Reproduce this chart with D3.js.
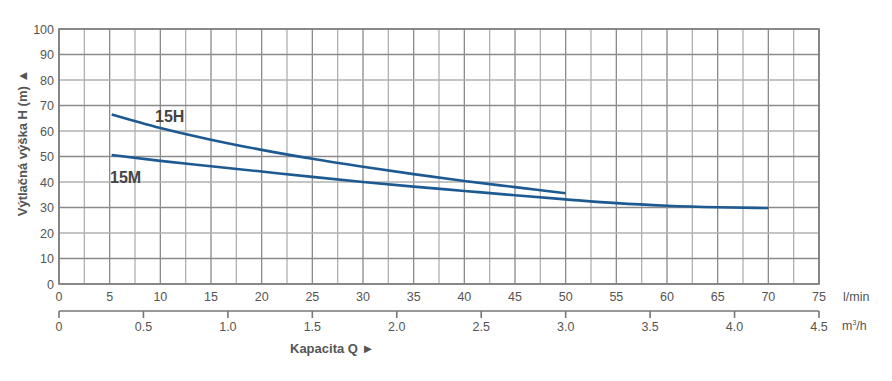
<!DOCTYPE html>
<html><head><meta charset="utf-8">
<script src="https://cdn.jsdelivr.net/npm/d3@7"></script>
<style>body{margin:0;background:#fff}svg{display:block}text{font-family:"Liberation Sans",Arial,sans-serif}</style>
</head><body><svg id="c" width="892" height="381"></svg>
<script>
const qLmin = [0,5,10,15,20,25,30,35,40,45,50,55,60,65,70,75];
const qM3h = [0,0.5,1.0,1.5,2.0,2.5,3.0,3.5,4.0,4.5];
const hTicks = [0,10,20,30,40,50,60,70,80,90,100];
const q15H = [5.2,10,15,20,25,30,35,40,45,50];
const h15H = [66.5,61.2,56.6,52.6,49.1,46.0,43.1,40.4,38.0,35.6];
const q15M = [5.2,10,15,20,25,30,35,40,45,50,55,60,65,70];
const h15M = [50.6,48.3,46.2,44.1,42.0,40.0,38.2,36.5,34.8,33.2,31.7,30.7,30.1,29.8];

const svg = d3.select("#c");
const L=59,R=819,T=29,B=284;
const x = d3.scaleLinear().domain([0,75]).range([L,R]);
const x2 = d3.scaleLinear().domain([0,4.5]).range([L,R]);
const y = d3.scaleLinear().domain([0,100]).range([B,T]);

// grid
const g = svg.append("g");
d3.range(0,75.01,2.5).forEach((v,i)=>{
  g.append("line").attr("x1",x(v)).attr("x2",x(v)).attr("y1",T).attr("y2",B)
   .attr("stroke", i%2? "#b0b0b0":"#8a8a8a").attr("stroke-width",1.3);
});
hTicks.forEach((v,i)=>{
  g.append("line").attr("x1",L).attr("x2",R).attr("y1",y(v)).attr("y2",y(v))
   .attr("stroke", i%2? "#8a8a8a":"#b0b0b0").attr("stroke-width",1.3);
});
g.append("rect").attr("x",L).attr("y",T).attr("width",R-L).attr("height",B-T)
 .attr("fill","none").attr("stroke","#7a7a7a").attr("stroke-width",1.6);

// y ticks
svg.append("g").selectAll("text").data(hTicks).join("text")
 .attr("x",L-5).attr("y",d=>y(d)+4.5).attr("text-anchor","end")
 .attr("font-size",12.5).attr("fill","#555").text(d=>d);

// x ticks l/min
svg.append("g").selectAll("text").data(qLmin).join("text")
 .attr("x",d=>x(d)).attr("y",301).attr("text-anchor","middle")
 .attr("font-size",12.5).attr("fill","#555").text(d=>d);
svg.append("text").attr("x",843).attr("y",301).attr("font-size",12.5).attr("fill","#555").text("l/min");

// second axis
const ax2 = svg.append("g");
ax2.append("line").attr("x1",L).attr("x2",x2(4.5)).attr("y1",311).attr("y2",311).attr("stroke","#777").attr("stroke-width",1.6);
ax2.selectAll("line.t").data(qM3h).join("line").attr("class","t")
 .attr("x1",d=>x2(d)).attr("x2",d=>x2(d)).attr("y1",311).attr("y2",318).attr("stroke","#777").attr("stroke-width",1.6);
ax2.selectAll("text").data(qM3h).join("text")
 .attr("x",d=>x2(d)).attr("y",331).attr("text-anchor","middle")
 .attr("font-size",12.5).attr("fill","#555").text(d=>d===0?"0":d.toFixed(1));
const mt = svg.append("text").attr("x",842).attr("y",330).attr("font-size",12.5).attr("fill","#555");
mt.append("tspan").text("m");
mt.append("tspan").attr("font-size",7).attr("dy",-5).text("3");
mt.append("tspan").attr("dy",5).text("/h");

svg.append("text").attr("x",290).attr("y",353).attr("font-size",13).attr("font-weight","bold").attr("fill","#555")
 .text("Kapacita Q  \u25BA");
svg.append("text").attr("transform","translate(27,143) rotate(-90)").attr("text-anchor","middle")
 .attr("font-size",13).attr("font-weight","bold").attr("fill","#555").text("Výtlačná výška H (m)  \u25B2");

// curves
const line = d3.line().x(d=>x(d[0])).y(d=>y(d[1])).curve(d3.curveMonotoneX);
svg.append("path").datum(q15H.map((q,i)=>[q,h15H[i]])).attr("d",line)
 .attr("fill","none").attr("stroke","#1d5a92").attr("stroke-width",2.6);
svg.append("path").datum(q15M.map((q,i)=>[q,h15M[i]])).attr("d",line)
 .attr("fill","none").attr("stroke","#1d5a92").attr("stroke-width",2.6);

svg.append("text").attr("x",155).attr("y",122).attr("font-size",16).attr("font-weight","bold").attr("fill","#444").text("15H");
svg.append("text").attr("x",110).attr("y",183).attr("font-size",16).attr("font-weight","bold").attr("fill","#444").text("15M");
</script></body></html>
